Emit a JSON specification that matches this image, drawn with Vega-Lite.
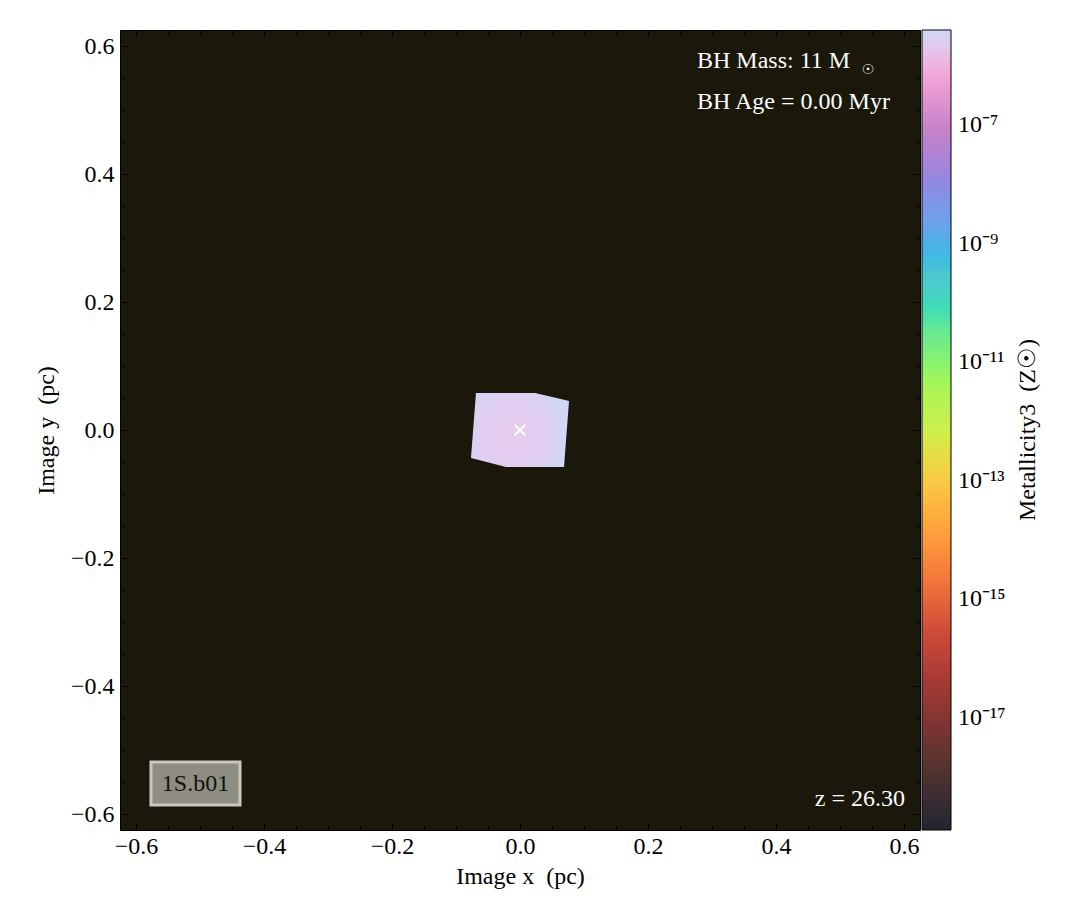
{
  "$schema": "https://vega.github.io/schema/vega-lite/v6.json",
  "width": 800,
  "height": 800,
  "autosize": {"type": "none"},
  "padding": {"left": 120, "top": 30, "right": 165, "bottom": 90},
  "background": "#ffffff",
  "config": {
    "font": "Liberation Serif",
    "view": {"fill": "#1a170b", "stroke": "#000000", "strokeWidth": 1},
    "axis": {"grid": false, "domain": false, "labelFont": "Liberation Serif", "labelFontSize": 24, "labelColor": "#000000", "titleFont": "Liberation Serif", "titleFontSize": 24, "titleFontWeight": "normal", "titleColor": "#000000", "tickColor": "#000000", "tickWidth": 1, "labelOverlap": false, "labelFlush": false, "labelBound": false}
  },
  "datasets": {
    "patch": [
      {"x": -0.0766, "top": -0.0438, "bot": -0.0438},
      {"x": -0.0688, "top": 0.0578, "bot": -0.0458},
      {"x": -0.0219, "top": 0.0578, "bot": -0.0578},
      {"x": 0.0234, "top": 0.0578, "bot": -0.0578},
      {"x": 0.0688, "top": 0.0471, "bot": -0.0578},
      {"x": 0.0766, "top": 0.0453, "bot": 0.0453}
    ],
    "marker": [{"x": 0, "y": 0}],
    "metal": [{"x": 0, "y": 0, "Z": 2e-6}],
    "textsL": [
      {"x": 0.2766, "y": 0.5656, "label": "BH Mass: 11 M"},
      {"x": 0.2766, "y": 0.5016, "label": "BH Age = 0.00 Myr"}
    ],
    "sun": [{"x": 0.5438, "y": 0.5625, "label": "☉"}],
    "textsR": [{"x": 0.6016, "y": -0.5875, "label": "z = 26.30"}],
    "box": [{"x1": -0.5766, "x2": -0.4375, "y1": -0.5188, "y2": -0.5859}],
    "boxText": [{"x": -0.507, "y": -0.5640, "label": "1S.b01"}],
    "cbTitle": [{"x": 0.794, "y": 0.0, "label": "Metallicity3\u2002(Z☉)"}]
  },
  "layer": [
    {
      "data": {"name": "patch"},
      "mark": {"type": "area", "orient": "vertical", "interpolate": "linear",
        "fill": {"gradient": "radial", "x1": 0.42, "y1": 0.55, "r1": 0, "x2": 0.42, "y2": 0.55, "r2": 0.72,
          "stops": [{"offset": 0, "color": "#e8ccee"}, {"offset": 0.5, "color": "#e0cff2"}, {"offset": 1, "color": "#c9dbf7"}]}},
      "encoding": {
        "x": {"field": "x", "type": "quantitative", "scale": {"domain": [-0.625, 0.625], "nice": false, "zero": false},
          "axis": {"orient": "bottom", "title": "Image x\u2002(pc)", "titlePadding": 3, "format": ".1f",
            "values": [-0.6,-0.55,-0.5,-0.45,-0.4,-0.35,-0.3,-0.25,-0.2,-0.15,-0.1,-0.05,0,0.05,0.1,0.15,0.2,0.25,0.3,0.35,0.4,0.45,0.5,0.55,0.6],
            "labelExpr": "abs(datum.value*5 - round(datum.value*5)) < 0.001 ? datum.label : ''",
            "tickSize": {"condition": {"test": "abs(datum.value*5 - round(datum.value*5)) < 0.001", "value": -7}, "value": -4},
            "labelPadding": 11}},
        "y": {"field": "top", "type": "quantitative", "scale": {"domain": [-0.625, 0.625], "nice": false, "zero": false},
          "axis": {"orient": "left", "title": "Image y\u2002(pc)", "titlePadding": 12, "format": ".1f",
            "values": [-0.6,-0.55,-0.5,-0.45,-0.4,-0.35,-0.3,-0.25,-0.2,-0.15,-0.1,-0.05,0,0.05,0.1,0.15,0.2,0.25,0.3,0.35,0.4,0.45,0.5,0.55,0.6],
            "labelExpr": "abs(datum.value*5 - round(datum.value*5)) < 0.001 ? datum.label : ''",
            "tickSize": {"condition": {"test": "abs(datum.value*5 - round(datum.value*5)) < 0.001", "value": -7}, "value": -4},
            "labelPadding": 13}},
        "y2": {"field": "bot"}
      }
    },
    {
      "data": {"name": "marker"},
      "mark": {"type": "point", "shape": "M-1,-1L1,1M-1,1L1,-1", "size": 110, "stroke": "#ffffff", "strokeWidth": 1.8, "filled": false, "opacity": 1},
      "encoding": {
        "x": {"field": "x", "type": "quantitative", "scale": {"domain": [-0.625, 0.625], "nice": false, "zero": false},
          "axis": {"orient": "top", "title": null, "labels": false,
            "values": [-0.6,-0.55,-0.5,-0.45,-0.4,-0.35,-0.3,-0.25,-0.2,-0.15,-0.1,-0.05,0,0.05,0.1,0.15,0.2,0.25,0.3,0.35,0.4,0.45,0.5,0.55,0.6],
            "tickSize": {"condition": {"test": "abs(datum.value*5 - round(datum.value*5)) < 0.001", "value": -7}, "value": -4}}},
        "y": {"field": "y", "type": "quantitative", "scale": {"domain": [-0.625, 0.625], "nice": false, "zero": false},
          "axis": {"orient": "right", "title": null, "labels": false,
            "values": [-0.6,-0.55,-0.5,-0.45,-0.4,-0.35,-0.3,-0.25,-0.2,-0.15,-0.1,-0.05,0,0.05,0.1,0.15,0.2,0.25,0.3,0.35,0.4,0.45,0.5,0.55,0.6],
            "tickSize": {"condition": {"test": "abs(datum.value*5 - round(datum.value*5)) < 0.001", "value": -7}, "value": -4}}}
      }
    },
    {
      "data": {"name": "metal"},
      "mark": {"type": "point", "opacity": 0, "filled": true, "size": 1},
      "encoding": {
        "x": {"field": "x", "type": "quantitative", "scale": {"domain": [-0.625, 0.625], "nice": false, "zero": false}, "axis": null},
        "y": {"field": "y", "type": "quantitative", "scale": {"domain": [-0.625, 0.625], "nice": false, "zero": false}, "axis": null},
        "color": {"field": "Z", "type": "quantitative",
          "scale": {"type": "log",
            "domain": [1.288e-19, 8.91e-19, 6.31e-18, 4.37e-17, 3.09e-16, 2.14e-15, 1.51e-14, 1.05e-13, 7.24e-13, 5.13e-12, 3.55e-11, 2.51e-10, 1.74e-9, 1.23e-8, 8.51e-8, 6.03e-7, 1.58e-6, 4.07e-6],
            "range": ["#22252b", "#47322e", "#7a3431", "#a63a34", "#d04c38", "#f3763a", "#ffa23e", "#f8ca46", "#cdf04d", "#a0f65a", "#66e893", "#52c8cc", "#66a6ec", "#9486de", "#c682c8", "#f0a2d6", "#ebc1e4", "#d0d8f2"]},
          "legend": {"orient": "right", "offset": 1, "padding": 0, "direction": "vertical",
            "gradientLength": 800, "gradientThickness": 29, "gradientStrokeColor": "#000000", "gradientStrokeWidth": 1,
            "values": [1e-17, 1e-15, 1e-13, 1e-11, 1e-9, 1e-7],
            "labelExpr": "'10' + replace(replace(replace(replace(replace(replace(replace(replace(replace(replace(replace('' + round(log(datum.value)/LN10), '-', '⁻'), /0/g, '⁰'), /1/g, '¹'), /2/g, '²'), /3/g, '³'), /4/g, '⁴'), /5/g, '⁵'), /6/g, '⁶'), /7/g, '⁷'), /8/g, '⁸'), /9/g, '⁹')",
            "labelFont": "Liberation Serif", "labelFontSize": 24, "labelColor": "#000000", "labelOffset": 7, "labelOverlap": false,
            "title": null}}
      }
    },
    {
      "data": {"name": "cbTitle"},
      "mark": {"type": "text", "align": "center", "baseline": "middle", "angle": 270, "fontSize": 24, "color": "#000000", "font": "Liberation Serif"},
      "encoding": {
        "x": {"field": "x", "type": "quantitative", "scale": {"domain": [-0.625, 0.625], "nice": false, "zero": false}, "axis": null},
        "y": {"field": "y", "type": "quantitative", "scale": {"domain": [-0.625, 0.625], "nice": false, "zero": false}, "axis": null},
        "text": {"field": "label"}
      }
    },
    {
      "data": {"name": "textsL"},
      "mark": {"type": "text", "align": "left", "baseline": "alphabetic", "fontSize": 24, "color": "#ffffff", "font": "Liberation Serif"},
      "encoding": {
        "x": {"field": "x", "type": "quantitative", "scale": {"domain": [-0.625, 0.625], "nice": false, "zero": false}, "axis": null},
        "y": {"field": "y", "type": "quantitative", "scale": {"domain": [-0.625, 0.625], "nice": false, "zero": false}, "axis": null},
        "text": {"field": "label"}
      }
    },
    {
      "data": {"name": "sun"},
      "mark": {"type": "text", "align": "center", "baseline": "middle", "fontSize": 14, "color": "#ffffff", "font": "DejaVu Sans"},
      "encoding": {
        "x": {"field": "x", "type": "quantitative", "scale": {"domain": [-0.625, 0.625], "nice": false, "zero": false}, "axis": null},
        "y": {"field": "y", "type": "quantitative", "scale": {"domain": [-0.625, 0.625], "nice": false, "zero": false}, "axis": null},
        "text": {"field": "label"}
      }
    },
    {
      "data": {"name": "textsR"},
      "mark": {"type": "text", "align": "right", "baseline": "alphabetic", "fontSize": 24, "color": "#ffffff", "font": "Liberation Serif"},
      "encoding": {
        "x": {"field": "x", "type": "quantitative", "scale": {"domain": [-0.625, 0.625], "nice": false, "zero": false}, "axis": null},
        "y": {"field": "y", "type": "quantitative", "scale": {"domain": [-0.625, 0.625], "nice": false, "zero": false}, "axis": null},
        "text": {"field": "label"}
      }
    },
    {
      "data": {"name": "box"},
      "mark": {"type": "rect", "fill": "#8e8d82", "stroke": "#c8c8bf", "strokeWidth": 3},
      "encoding": {
        "x": {"field": "x1", "type": "quantitative", "scale": {"domain": [-0.625, 0.625], "nice": false, "zero": false}, "axis": null},
        "x2": {"field": "x2"},
        "y": {"field": "y1", "type": "quantitative", "scale": {"domain": [-0.625, 0.625], "nice": false, "zero": false}, "axis": null},
        "y2": {"field": "y2"}
      }
    },
    {
      "data": {"name": "boxText"},
      "mark": {"type": "text", "align": "center", "baseline": "alphabetic", "fontSize": 24, "color": "#111111", "font": "Liberation Serif"},
      "encoding": {
        "x": {"field": "x", "type": "quantitative", "scale": {"domain": [-0.625, 0.625], "nice": false, "zero": false}, "axis": null},
        "y": {"field": "y", "type": "quantitative", "scale": {"domain": [-0.625, 0.625], "nice": false, "zero": false}, "axis": null},
        "text": {"field": "label"}
      }
    }
  ],
  "resolve": {"axis": {"x": "independent", "y": "independent"}}
}
